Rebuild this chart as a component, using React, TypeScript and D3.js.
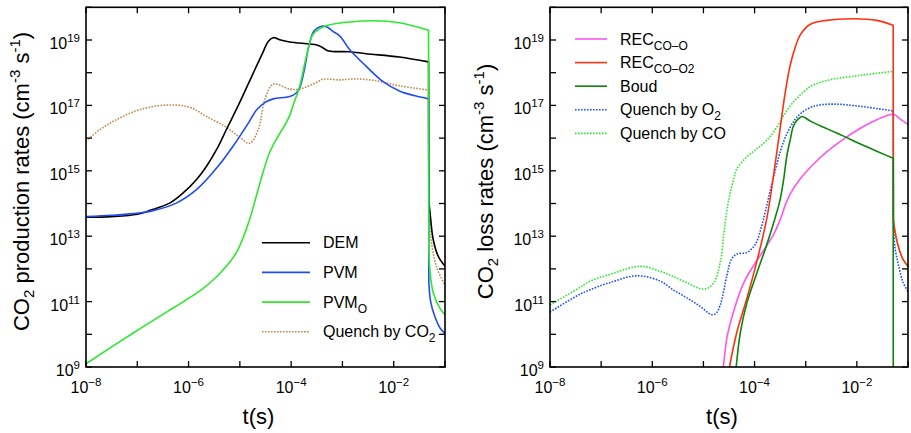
import React from "react";
import * as d3 from "d3";

// All values are [log10(t / s), log10(rate / cm^-3 s^-1)]
const DEM: [number, number][] = [
  [-8, 13.58], [-7.5, 13.6], [-7.0, 13.67], [-6.75, 13.79], [-6.36, 14.02], [-6.1, 14.33],
  [-5.84, 14.74], [-5.65, 15.14], [-5.45, 15.66], [-5.26, 16.27], [-5.0, 17.1], [-4.75, 17.95],
  [-4.55, 18.62], [-4.45, 18.95], [-4.35, 19.07], [-4.2, 19.0], [-4.03, 18.94], [-3.64, 18.88],
  [-3.5, 18.85], [-3.4, 18.78], [-3.3, 18.68], [-3.2, 18.65], [-2.86, 18.64], [-2.54, 18.58],
  [-1.89, 18.48], [-1.32, 18.33],
  [-1.315, 14.1], [-1.29, 13.7], [-1.23, 12.9], [-1.13, 12.38], [-1.0, 12.08],
];
const PVM: [number, number][] = [
  [-8, 13.6], [-7.5, 13.64], [-7.08, 13.69], [-6.75, 13.76], [-6.23, 14.02], [-5.84, 14.43],
  [-5.45, 15.09], [-5.13, 15.76], [-4.81, 16.52], [-4.68, 16.85], [-4.5, 17.1], [-4.35, 17.2],
  [-4.03, 17.27], [-3.9, 17.38], [-3.83, 17.55], [-3.74, 18.11], [-3.65, 18.85], [-3.55, 19.28],
  [-3.41, 19.42], [-3.3, 19.4], [-3.2, 19.28], [-3.05, 19.12], [-2.86, 18.71], [-2.54, 18.2],
  [-2.22, 17.74], [-1.89, 17.44], [-1.6, 17.3], [-1.32, 17.2],
  [-1.315, 11.6], [-1.28, 11.0], [-1.2, 10.55], [-1.1, 10.2], [-1.0, 10.02],
];
const PVMO: [number, number][] = [
  [-8, 9.1], [-7.08, 10.04], [-6.43, 10.68], [-6.17, 10.93], [-5.95, 11.15], [-5.72, 11.4],
  [-5.52, 11.66], [-5.39, 11.86], [-5.2, 12.2], [-5.05, 12.55], [-4.93, 12.98], [-4.81, 13.51],
  [-4.68, 14.22], [-4.55, 14.94], [-4.42, 15.56], [-4.29, 15.96], [-4.1, 16.46], [-4.03, 16.68],
  [-3.95, 17.05], [-3.83, 17.6], [-3.7, 18.52], [-3.57, 19.18], [-3.38, 19.4], [-3.05, 19.52],
  [-2.86, 19.55], [-2.41, 19.59], [-1.89, 19.53], [-1.32, 19.3],
  [-1.315, 12.5], [-1.29, 11.9], [-1.23, 11.27], [-1.1, 10.8], [-1.0, 10.6],
];
const QUENCH_CO2: [number, number][] = [
  [-8, 15.9], [-7.73, 16.26], [-7.4, 16.57], [-6.95, 16.87], [-6.43, 17.01], [-5.97, 16.94],
  [-5.65, 16.66], [-5.26, 16.33], [-5.0, 16.02], [-4.81, 15.84], [-4.64, 16.27], [-4.51, 17.19],
  [-4.35, 17.65], [-4.03, 17.5], [-3.83, 17.5], [-3.51, 17.7], [-3.38, 17.8], [-3.05, 17.78],
  [-2.8, 17.81], [-2.41, 17.77], [-1.89, 17.6], [-1.32, 17.47],
  [-1.315, 13.8], [-1.28, 13.0], [-1.17, 12.08], [-1.0, 11.5],
];

const REC_CO_O: [number, number][] = [
  [-4.66, 8.4], [-4.61, 9.0], [-4.54, 9.9], [-4.41, 10.7], [-4.22, 11.55], [-4.02, 12.1],
  [-3.83, 12.55], [-3.63, 13.05], [-3.5, 13.5], [-3.4, 13.95], [-3.3, 14.3], [-3.11, 14.75],
  [-2.85, 15.2], [-2.59, 15.58], [-2.26, 15.97], [-1.93, 16.3], [-1.61, 16.56], [-1.29, 16.73],
  [-1.15, 16.58], [-1.0, 16.42],
];
const REC_CO_O2: [number, number][] = [
  [-4.55, 8.4], [-4.49, 9.0], [-4.35, 10.04], [-4.15, 11.1], [-3.96, 12.2], [-3.76, 13.55],
  [-3.63, 14.85], [-3.5, 16.3], [-3.4, 17.4], [-3.3, 18.25], [-3.2, 18.8], [-3.11, 19.15],
  [-2.91, 19.48], [-2.59, 19.6], [-2.06, 19.65], [-1.61, 19.6], [-1.29, 19.45],
  [-1.285, 13.5], [-1.26, 13.2], [-1.2, 12.75], [-1.1, 12.3], [-1.0, 12.08],
];
const BOUD: [number, number][] = [
  [-4.4, 8.4], [-4.36, 9.0], [-4.28, 10.04], [-4.15, 10.96], [-3.96, 11.85], [-3.76, 12.75],
  [-3.6, 13.55], [-3.5, 14.12], [-3.43, 14.75], [-3.37, 15.45], [-3.3, 15.97], [-3.24, 16.37],
  [-3.15, 16.58], [-3.07, 16.66], [-2.98, 16.59], [-2.91, 16.52], [-2.59, 16.29], [-2.26, 16.06],
  [-1.93, 15.82], [-1.61, 15.6], [-1.29, 15.38], [-1.288, 8.0],
];
const QUENCH_O2: [number, number][] = [
  [-8, 10.68], [-7.48, 11.17], [-7.22, 11.36], [-6.83, 11.58], [-6.3, 11.79], [-5.85, 11.63],
  [-5.59, 11.36], [-5.33, 11.12], [-5.06, 10.85], [-4.84, 10.6], [-4.75, 10.65], [-4.67, 10.9],
  [-4.54, 11.8], [-4.45, 12.3], [-4.35, 12.45], [-4.15, 12.5], [-4.02, 12.68], [-3.96, 12.82],
  [-3.83, 13.5], [-3.63, 14.8], [-3.43, 15.9], [-3.24, 16.5], [-3.1, 16.75], [-2.85, 16.97],
  [-2.46, 17.04], [-1.93, 16.97], [-1.29, 16.83],
  [-1.285, 13.3], [-1.25, 12.6], [-1.18, 12.08], [-1.1, 11.6], [-1.0, 11.31],
];
const QUENCH_CO: [number, number][] = [
  [-8, 10.9], [-7.48, 11.37], [-7.22, 11.62], [-6.83, 11.83], [-6.24, 12.08], [-5.85, 11.93],
  [-5.59, 11.77], [-5.33, 11.58], [-4.98, 11.38], [-4.8, 11.57], [-4.67, 12.2], [-4.6, 13.1],
  [-4.54, 13.8], [-4.48, 14.3], [-4.4, 14.8], [-4.35, 15.05], [-4.2, 15.35], [-4.02, 15.6],
  [-3.89, 15.75], [-3.69, 16.06], [-3.5, 16.5], [-3.43, 16.7], [-3.24, 17.1], [-2.98, 17.5],
  [-2.91, 17.58], [-2.59, 17.76], [-1.93, 17.92], [-1.29, 18.04],
  [-1.285, 13.5], [-1.26, 13.2], [-1.2, 12.75], [-1.1, 12.3], [-1.0, 12.08],
];

const X_DECADES = [-8, -7, -6, -5, -4, -3, -2, -1];
const X_LABELS = [-8, -6, -4, -2];
const Y_DECADES = [9, 10, 11, 12, 13, 14, 15, 16, 17, 18, 19, 20];
const Y_LABELS = [9, 11, 13, 15, 17, 19];

const FONT = "'Liberation Sans', Arial, Helvetica, sans-serif";

type Series = { data: [number, number][]; color: string; dash?: string; width?: number };
type LegendItem = { color: string; dash?: string; main: string; sub?: string };

const LEFT_SERIES: Series[] = [
  { data: QUENCH_CO2, color: "#c08a50", dash: "1.6 1.4" },
  { data: DEM, color: "#000000" },
  { data: PVM, color: "#1f4cf5" },
  { data: PVMO, color: "#2ee82e" },
];
const LEFT_LEGEND: LegendItem[] = [
  { color: "#000000", main: "DEM" },
  { color: "#1f4cf5", main: "PVM" },
  { color: "#2ee82e", main: "PVM", sub: "O" },
  { color: "#c08a50", dash: "1.6 1.4", main: "Quench by CO", sub: "2" },
];
const RIGHT_SERIES: Series[] = [
  { data: QUENCH_CO, color: "#30e830", dash: "1.6 1.4" },
  { data: QUENCH_O2, color: "#2050ff", dash: "1.6 1.4" },
  { data: REC_CO_O, color: "#ff55f0" },
  { data: REC_CO_O2, color: "#ff3010" },
  { data: BOUD, color: "#0a860a" },
];
const RIGHT_LEGEND: LegendItem[] = [
  { color: "#ff55f0", main: "REC", sub: "CO\u2013O" },
  { color: "#ff3010", main: "REC", sub: "CO\u2013O2" },
  { color: "#0a860a", main: "Boud" },
  { color: "#2050ff", dash: "1.6 1.4", main: "Quench by O", sub: "2" },
  { color: "#30e830", dash: "1.6 1.4", main: "Quench by CO" },
];

type PanelProps = {
  id: string;
  x0: number;
  x1: number;
  series: Series[];
  legend: LegendItem[];
  legendX: number;
  legendY: number;
  legendStep: number;
  legendLineW: number;
  legendTextGap: number;
  titleParts: { pre: string; post: string };
};

const Y0 = 7.3;
const Y1 = 367;

// split a series where it drops (nearly identical t), so each smooth part is
// drawn with a spline and the drop itself is a straight segment
function segments(data: [number, number][]): [number, number][][] {
  const out: [number, number][][] = [];
  let cur: [number, number][] = [];
  data.forEach((d, i) => {
    if (i > 0 && d[0] - data[i - 1][0] < 0.02) {
      out.push(cur);
      cur = [];
    }
    cur.push(d);
  });
  out.push(cur);
  return out;
}

function Panel(p: PanelProps) {
  const x = d3.scaleLog().domain([1e-8, 1e-1]).range([p.x0, p.x1]);
  const y = d3.scaleLog().domain([1e9, 1e20]).range([Y1, Y0]);
  const line = d3
    .line<[number, number]>()
    .x((d) => x(Math.pow(10, d[0])))
    .y((d) => y(Math.pow(10, d[1])))
    .curve(d3.curveCatmullRom.alpha(0.5));
  const pathFor = (data: [number, number][]) => {
    const segs = segments(data);
    let d = "";
    segs.forEach((s, i) => {
      if (s.length === 1) {
        const px = x(Math.pow(10, s[0][0]));
        const py = y(Math.pow(10, s[0][1]));
        d += (i === 0 ? "M" : "L") + px + "," + py;
      } else {
        const part = line(s) || "";
        d += i === 0 ? part : "L" + part.slice(1);
      }
    });
    return d;
  };
  const tl = 6;
  const cx = (p.x0 + p.x1) / 2 - 7;
  const cy = 181.5;
  return (
    <g>
      <defs>
        <clipPath id={p.id}>
          <rect x={p.x0} y={Y0} width={p.x1 - p.x0} height={Y1 - Y0} />
        </clipPath>
      </defs>
      <g clipPath={`url(#${p.id})`}>
        {p.series.map((s, i) => (
          <path
            key={i}
            d={pathFor(s.data)}
            fill="none"
            stroke={s.color}
            strokeWidth={s.width ?? 1.6}
            strokeDasharray={s.dash}
          />
        ))}
      </g>
      {X_DECADES.map((e) => {
        const xx = x(Math.pow(10, e));
        return (
          <g key={"xt" + e}>
            <line x1={xx} x2={xx} y1={Y1} y2={Y1 - tl} stroke="#000" strokeWidth={1.3} />
            <line x1={xx} x2={xx} y1={Y0} y2={Y0 + tl} stroke="#000" strokeWidth={1.3} />
          </g>
        );
      })}
      {Y_DECADES.map((e) => {
        const yy = y(Math.pow(10, e));
        return (
          <g key={"yt" + e}>
            <line x1={p.x0} x2={p.x0 + tl} y1={yy} y2={yy} stroke="#000" strokeWidth={1.3} />
            <line x1={p.x1} x2={p.x1 - tl} y1={yy} y2={yy} stroke="#000" strokeWidth={1.3} />
          </g>
        );
      })}
      <rect
        x={p.x0}
        y={Y0}
        width={p.x1 - p.x0}
        height={Y1 - Y0}
        fill="none"
        stroke="#000"
        strokeWidth={1.6}
      />
      {X_LABELS.map((e) => (
        <text
          key={"xl" + e}
          x={x(Math.pow(10, e))}
          y={393}
          textAnchor="middle"
          fontFamily={FONT}
          fontSize={16}
          fill="#000"
        >
          10
          <tspan dy={-7} fontSize={11.5}>
            {"\u2212" + Math.abs(e)}
          </tspan>
        </text>
      ))}
      {Y_LABELS.map((e) => (
        <text
          key={"yl" + e}
          x={p.x0 - 6}
          y={y(Math.pow(10, e)) + 9}
          textAnchor="end"
          fontFamily={FONT}
          fontSize={16}
          fill="#000"
        >
          10
          <tspan dy={-7} fontSize={11.5}>
            {String(e)}
          </tspan>
        </text>
      ))}
      <text x={cx} y={424} textAnchor="middle" fontFamily={FONT} fontSize={22} fill="#000">
        t(s)
      </text>
      <text
        transform={`translate(${p.x0 - 57},${cy}) rotate(-90)`}
        textAnchor="middle"
        fontFamily={FONT}
        fontSize={22}
        fill="#000"
      >
        {p.titleParts.pre}
        <tspan dy={5} fontSize={15}>2</tspan>
        <tspan dy={-5}>{p.titleParts.post}</tspan>
        <tspan dy={-9} fontSize={15}>-3</tspan>
        <tspan dy={9}> s</tspan>
        <tspan dy={-9} fontSize={15}>-1</tspan>
        <tspan dy={9}>)</tspan>
      </text>
      {p.legend.map((l, i) => {
        const ly = p.legendY + i * p.legendStep;
        return (
          <g key={"lg" + i}>
            <line
              x1={p.legendX}
              x2={p.legendX + p.legendLineW}
              y1={ly}
              y2={ly}
              stroke={l.color}
              strokeWidth={1.6}
              strokeDasharray={l.dash}
            />
            <text
              x={p.legendX + p.legendLineW + p.legendTextGap}
              y={ly + 5.6}
              fontFamily={FONT}
              fontSize={16}
              fill="#000"
            >
              {l.main}
              {l.sub ? (
                <tspan dy={5} fontSize={12}>
                  {l.sub}
                </tspan>
              ) : null}
            </text>
          </g>
        );
      })}
    </g>
  );
}

export default function App() {
  return (
    <svg
      width={911}
      height={433}
      viewBox="0 0 911 433"
      style={{ position: "absolute", left: 0, top: 0, background: "#fff", display: "block" }}
    >
      <rect x={0} y={0} width={911} height={433} fill="#fff" />
      <Panel
        id="clipL"
        x0={86}
        x1={445}
        series={LEFT_SERIES}
        legend={LEFT_LEGEND}
        legendX={262}
        legendY={242.7}
        legendStep={29.7}
        legendLineW={48}
        legendTextGap={13}
        titleParts={{ pre: "CO", post: " production rates (cm" }}
      />
      <Panel
        id="clipR"
        x0={550}
        x1={908}
        series={RIGHT_SERIES}
        legend={RIGHT_LEGEND}
        legendX={575}
        legendY={39}
        legendStep={23.6}
        legendLineW={32}
        legendTextGap={13}
        titleParts={{ pre: "CO", post: " loss rates (cm" }}
      />
    </svg>
  );
}
